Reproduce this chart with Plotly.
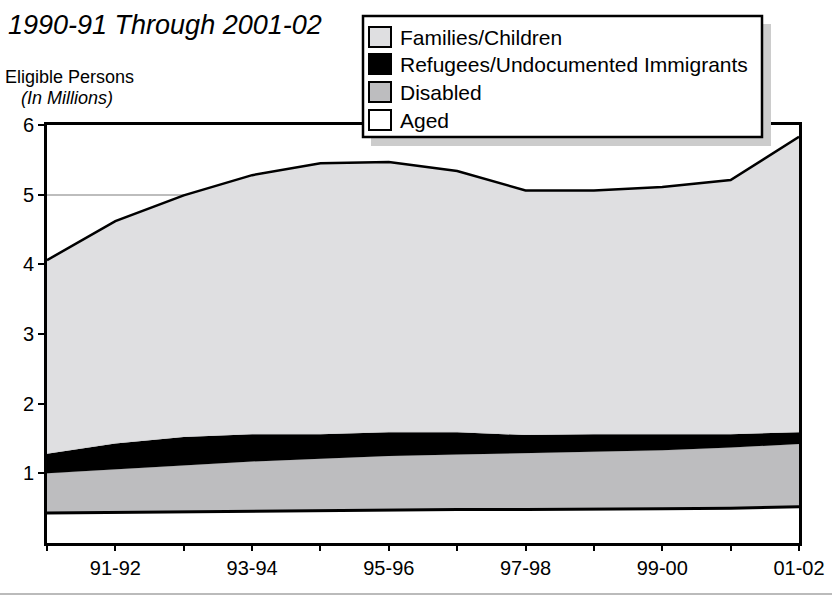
import plotly.graph_objects as go

# Fiscal years
years = ["90-91", "91-92", "92-93", "93-94", "94-95", "95-96",
         "96-97", "97-98", "98-99", "99-00", "00-01", "01-02"]

# Eligible persons by category (millions), stacked bottom to top
aged = [0.43, 0.44, 0.45, 0.46, 0.47, 0.47, 0.48, 0.48, 0.48, 0.49, 0.50, 0.52]
disabled = [0.57, 0.62, 0.67, 0.71, 0.74, 0.78, 0.79, 0.81, 0.83, 0.84, 0.87, 0.90]
refugees = [0.28, 0.37, 0.40, 0.39, 0.35, 0.34, 0.32, 0.26, 0.25, 0.23, 0.19, 0.17]
families = [2.78, 3.19, 3.47, 3.72, 3.89, 3.88, 3.75, 3.51, 3.50, 3.55, 3.65, 4.24]

legend_labels = ["Families/Children", "Refugees/Undocumented Immigrants", "Disabled", "Aged"]
y_ticks = [1, 2, 3, 4, 5, 6]

FONT = "Liberation Sans, Arial, sans-serif"
W, H = 832, 596
ML, MR, MT, MB = 47, 33, 125, 53
PW, PH = W - ML - MR, H - MT - MB


def px(x):
    return (x - ML) / PW


def py(y):
    return (H - MB - y) / PH


fig = go.Figure()

series = [
    ("Aged", aged, "#ffffff", 3),
    ("Disabled", disabled, "#bdbdbf", 0),
    ("Refugees/Undocumented Immigrants", refugees, "#000000", 0),
    ("Families/Children", families, "#dfdfe1", 2.5),
]
for name, vals, color, lw in series:
    fig.add_trace(go.Scatter(
        x=years, y=vals, name=name, stackgroup="one", mode="lines",
        fillcolor=color,
        line=dict(color="black", width=lw if lw else 0.1),
        showlegend=False, hoverinfo="skip",
    ))

ticktext = [lbl if i % 2 == 1 else "" for i, lbl in enumerate(years)]

fig.update_layout(
    width=W, height=H,
    margin=dict(l=ML, r=MR, t=MT, b=MB, autoexpand=False),
    paper_bgcolor="white", plot_bgcolor="white",
    font=dict(family=FONT, color="black", size=20),
    xaxis=dict(
        type="category", range=[0, len(years) - 1],
        tickvals=years, ticktext=ticktext, automargin=False,
        ticks="outside", ticklen=5, tickwidth=2, tickcolor="black",
        showline=True, linewidth=3, linecolor="black", mirror=True,
        showgrid=False, tickfont=dict(size=20),
    ),
    yaxis=dict(
        range=[0, 6], tickvals=y_ticks, ticktext=[str(v) for v in y_ticks],
        automargin=False,
        ticks="outside", ticklen=6, tickwidth=2, tickcolor="black",
        showline=True, linewidth=3, linecolor="black", mirror=True,
        showgrid=True, gridcolor="#bdbdbd", gridwidth=2, zeroline=False,
        tickfont=dict(size=20),
    ),
)

shapes = []
annotations = []

# Title and axis caption
annotations.append(dict(
    text="<i>1990-91 Through 2001-02</i>", xref="paper", yref="paper",
    x=px(6), y=py(25), xanchor="left", yanchor="middle",
    showarrow=False, font=dict(size=27, family=FONT)))
annotations.append(dict(
    text="Eligible Persons", xref="paper", yref="paper",
    x=px(3), y=py(77), xanchor="left", yanchor="middle",
    showarrow=False, font=dict(size=18, family=FONT)))
annotations.append(dict(
    text="<i>(In Millions)</i>", xref="paper", yref="paper",
    x=px(19), y=py(98), xanchor="left", yanchor="middle",
    showarrow=False, font=dict(size=18, family=FONT)))

# Legend box with drop shadow
shapes.append(dict(type="rect", xref="paper", yref="paper",
                   x0=px(371), x1=px(771), y0=py(24), y1=py(146),
                   fillcolor="#cccccc", line=dict(width=0), layer="above"))
shapes.append(dict(type="rect", xref="paper", yref="paper",
                   x0=px(363), x1=px(762), y0=py(16), y1=py(137),
                   fillcolor="white", line=dict(color="black", width=2.5),
                   layer="above"))
swatch_colors = ["#dfdfe1", "#000000", "#bdbdbf", "#ffffff"]
row_centers = [37, 64, 92, 120]
for lbl, col, yc in zip(legend_labels, swatch_colors, row_centers):
    shapes.append(dict(type="rect", xref="paper", yref="paper",
                       x0=px(369), x1=px(391), y0=py(yc - 10), y1=py(yc + 10),
                       fillcolor=col, line=dict(color="black", width=2),
                       layer="above"))
    annotations.append(dict(
        text=lbl, xref="paper", yref="paper",
        x=px(398), y=py(yc), xanchor="left", yanchor="middle",
        showarrow=False, font=dict(size=21, family=FONT)))

# Footer rule
shapes.append(dict(type="line", xref="paper", yref="paper",
                   x0=px(0), x1=px(W), y0=py(594), y1=py(594),
                   line=dict(color="#bbbbbb", width=2)))

fig.update_layout(shapes=shapes, annotations=annotations)

fig.write_html("out.html")
